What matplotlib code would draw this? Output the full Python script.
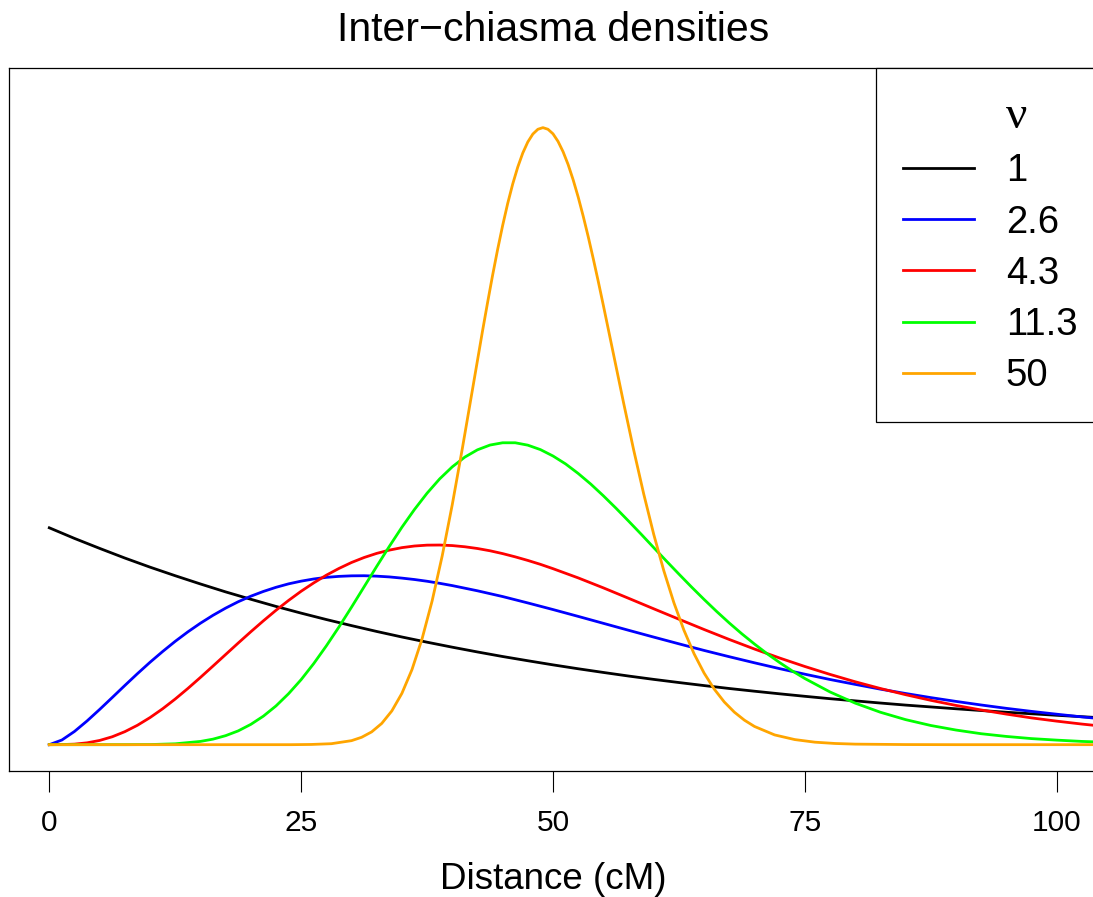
"""Inter-chiasma distance densities for several interference parameters (nu)."""

import matplotlib

matplotlib.use("Agg")
import matplotlib.pyplot as plt
from matplotlib.lines import Line2D

FIG_SIZE = (10.93, 8.97)
DPI = 100
LINE_WIDTH = 2.0
TITLE_FONT_SIZE = 29.5
AXIS_FONT_SIZE = 26.5
TICK_LABEL_FONT_SIZE = 21.5
LEGEND_FONT_SIZE = 27.5

plt.rcParams["font.family"] = ["Liberation Sans", "DejaVu Sans"]

# distance in cM, density values (y axis is unlabelled);
# curved stretches were read on a finer grid than the flat tails
distance_nu_1 = [
    0, 2.5, 5, 7.5, 10, 12.5, 15, 17.5, 20, 22.5, 25, 27.5, 30, 32.5, 35,
    37.5, 40, 42.5, 45, 47.5, 50, 52.5, 55, 57.5, 60, 62.5, 65, 67.5, 70,
    72.5, 75, 77.5, 80, 82.5, 85, 87.5, 90, 92.5, 95, 97.5, 100, 102.5, 105,
]
density_nu_1 = [
    2.000, 1.902, 1.810, 1.721, 1.637, 1.558, 1.482, 1.409, 1.341, 1.275,
    1.213, 1.154, 1.098, 1.044, 0.993, 0.945, 0.899, 0.855, 0.813, 0.774,
    0.736, 0.700, 0.666, 0.633, 0.602, 0.573, 0.545, 0.518, 0.493, 0.469,
    0.446, 0.424, 0.404, 0.384, 0.365, 0.348, 0.331, 0.315, 0.299, 0.285,
    0.271, 0.258, 0.245,
]

distance_nu_2_6 = [
    0, 1.25, 2.5, 3.75, 5, 6.25, 7.5, 8.75, 10, 11.25, 12.5, 13.75, 15,
    16.25, 17.5, 18.75, 20, 21.25, 22.5, 23.75, 25, 26.25, 27.5, 28.75, 30,
    31.25, 32.5, 33.75, 35, 36.25, 37.5, 38.75, 40, 42.5, 45, 47.5, 50, 52.5,
    55, 57.5, 60, 62.5, 65, 67.5, 70, 72.5, 75, 77.5, 80, 82.5, 85, 87.5, 90,
    92.5, 95, 97.5, 100, 102.5, 105,
]
density_nu_2_6 = [
    0.000, 0.043, 0.122, 0.219, 0.325, 0.435, 0.546, 0.655, 0.760, 0.859,
    0.953, 1.040, 1.120, 1.193, 1.259, 1.318, 1.369, 1.413, 1.451, 1.483,
    1.508, 1.528, 1.543, 1.552, 1.557, 1.558, 1.554, 1.547, 1.536, 1.523,
    1.507, 1.488, 1.467, 1.419, 1.366, 1.307, 1.246, 1.183, 1.119, 1.055,
    0.992, 0.930, 0.869, 0.811, 0.755, 0.701, 0.650, 0.601, 0.556, 0.512,
    0.472, 0.434, 0.399, 0.366, 0.335, 0.307, 0.281, 0.256, 0.234,
]

distance_nu_4_3 = [
    0, 1.25, 2.5, 3.75, 5, 6.25, 7.5, 8.75, 10, 11.25, 12.5, 13.75, 15,
    16.25, 17.5, 18.75, 20, 21.25, 22.5, 23.75, 25, 26.25, 27.5, 28.75, 30,
    31.25, 32.5, 33.75, 35, 36.25, 37.5, 38.75, 40, 41.25, 42.5, 43.75, 45,
    46.25, 47.5, 48.75, 50, 52.5, 55, 57.5, 60, 62.5, 65, 67.5, 70, 72.5, 75,
    77.5, 80, 82.5, 85, 87.5, 90, 92.5, 95, 97.5, 100, 102.5, 105,
]
density_nu_4_3 = [
    0.000, 0.001, 0.005, 0.017, 0.039, 0.073, 0.120, 0.179, 0.250, 0.331,
    0.421, 0.518, 0.620, 0.725, 0.831, 0.937, 1.041, 1.142, 1.239, 1.330,
    1.415, 1.492, 1.563, 1.625, 1.680, 1.726, 1.764, 1.794, 1.817, 1.832,
    1.840, 1.841, 1.836, 1.825, 1.809, 1.788, 1.762, 1.732, 1.699, 1.663,
    1.623, 1.538, 1.446, 1.350, 1.253, 1.157, 1.062, 0.970, 0.882, 0.799,
    0.721, 0.648, 0.580, 0.518, 0.461, 0.409, 0.362, 0.320, 0.282, 0.247,
    0.217, 0.190, 0.166,
]

distance_nu_11_3 = [
    0, 2.5, 5, 7.5, 10, 12.5, 15, 16.25, 17.5, 18.75, 20, 21.25, 22.5, 23.75,
    25, 26.25, 27.5, 28.75, 30, 31.25, 32.5, 33.75, 35, 36.25, 37.5, 38.75,
    40, 41.25, 42.5, 43.75, 45, 46.25, 47.5, 48.75, 50, 51.25, 52.5, 53.75,
    55, 56.25, 57.5, 58.75, 60, 61.25, 62.5, 63.75, 65, 66.25, 67.5, 68.75,
    70, 71.25, 72.5, 73.75, 75, 77.5, 80, 82.5, 85, 87.5, 90, 92.5, 95, 97.5,
    100, 102.5, 105,
]
density_nu_11_3 = [
    0.000, 0.000, 0.000, 0.000, 0.001, 0.008, 0.030, 0.051, 0.083, 0.127,
    0.187, 0.263, 0.357, 0.470, 0.600, 0.748, 0.911, 1.085, 1.268, 1.456,
    1.644, 1.828, 2.005, 2.169, 2.319, 2.451, 2.562, 2.652, 2.719, 2.763,
    2.784, 2.784, 2.762, 2.721, 2.662, 2.589, 2.501, 2.403, 2.295, 2.181,
    2.062, 1.941, 1.817, 1.694, 1.573, 1.454, 1.339, 1.228, 1.122, 1.022,
    0.928, 0.839, 0.757, 0.680, 0.610, 0.486, 0.383, 0.299, 0.231, 0.177,
    0.135, 0.101, 0.076, 0.056, 0.042, 0.030, 0.022,
]

distance_nu_50 = [
    0, 20, 22, 24, 26, 28, 30, 31, 32, 33, 34, 35, 36, 37, 38, 39, 40, 41,
    42, 43, 43.5, 44, 44.5, 45, 45.5, 46, 46.5, 47, 47.5, 48, 48.5, 49, 49.5,
    50, 50.5, 51, 51.5, 52, 52.5, 53, 53.5, 54, 54.5, 55, 56, 57, 58, 59, 60,
    61, 62, 63, 64, 65, 66, 67, 68, 69, 70, 72, 74, 76, 78, 80, 85, 90, 105,
]
density_nu_50 = [
    0.000, 0.000, 0.000, 0.000, 0.002, 0.009, 0.037, 0.068, 0.118, 0.196,
    0.311, 0.473, 0.692, 0.975, 1.325, 1.740, 2.213, 2.731, 3.271, 3.813,
    4.074, 4.327, 4.565, 4.787, 4.990, 5.170, 5.326, 5.456, 5.558, 5.631,
    5.675, 5.690, 5.675, 5.633, 5.563, 5.468, 5.350, 5.209, 5.050, 4.873,
    4.683, 4.480, 4.269, 4.050, 3.603, 3.155, 2.721, 2.314, 1.939, 1.604,
    1.309, 1.055, 0.839, 0.660, 0.513, 0.394, 0.300, 0.226, 0.168, 0.090,
    0.047, 0.023, 0.011, 0.005, 0.001, 0.000, 0.000,
]

nu_labels = ["1", "2.6", "4.3", "11.3", "50"]
nu_colors = ["black", "#0000FF", "#FF0000", "#00FF00", "#FFA500"]
x_ticks = [0, 25, 50, 75, 100]

fig = plt.figure(figsize=FIG_SIZE, dpi=DPI)
# axes box runs a few pixels past the right edge, as in the cropped original
ax = fig.add_axes([9 / 1093, (897 - 770.7) / 897, 1088 / 1093, 702.7 / 897])

curves = [
    (distance_nu_1, density_nu_1),
    (distance_nu_2_6, density_nu_2_6),
    (distance_nu_4_3, density_nu_4_3),
    (distance_nu_11_3, density_nu_11_3),
    (distance_nu_50, density_nu_50),
]
for (xs, ys), color in zip(curves, nu_colors):
    ax.plot(xs, ys, color=color, linewidth=LINE_WIDTH, solid_joinstyle="round")

ax.set_xlim(-4, 104)
ax.set_ylim(-0.24, 6.24)
ax.set_xticks(x_ticks)
ax.set_xticklabels([str(t) for t in x_ticks])
ax.set_yticks([])
ax.tick_params(
    axis="x", length=15.3, width=0.8, pad=12, labelsize=TICK_LABEL_FONT_SIZE
)
for spine in ax.spines.values():
    spine.set_linewidth(0.9)
    spine.set_color("black")

ax.set_xlabel("Distance (cM)", fontsize=AXIS_FONT_SIZE, labelpad=18)
ax.set_title("Inter\u2212chiasma densities", fontsize=TITLE_FONT_SIZE, pad=19.7)

handles = [Line2D([], [], color="none")]
handles += [Line2D([], [], color=c, linewidth=LINE_WIDTH) for c in nu_colors]
legend = ax.legend(
    handles,
    ["\u03bd"] + nu_labels,
    loc="upper right",
    bbox_to_anchor=(1.0074, 1),
    borderaxespad=0,
    fontsize=LEGEND_FONT_SIZE,
    handlelength=1.86,
    handletextpad=0.83,
    labelspacing=0.40,
    borderpad=0.72,
    fancybox=False,
    framealpha=1,
    edgecolor="black",
)
legend.get_frame().set_linewidth(0.9)
nu_title = legend.get_texts()[0]
nu_title.set_fontfamily(["Liberation Serif", "DejaVu Serif"])
nu_title.set_fontsize(34)

fig.savefig("out.png", dpi=DPI)
